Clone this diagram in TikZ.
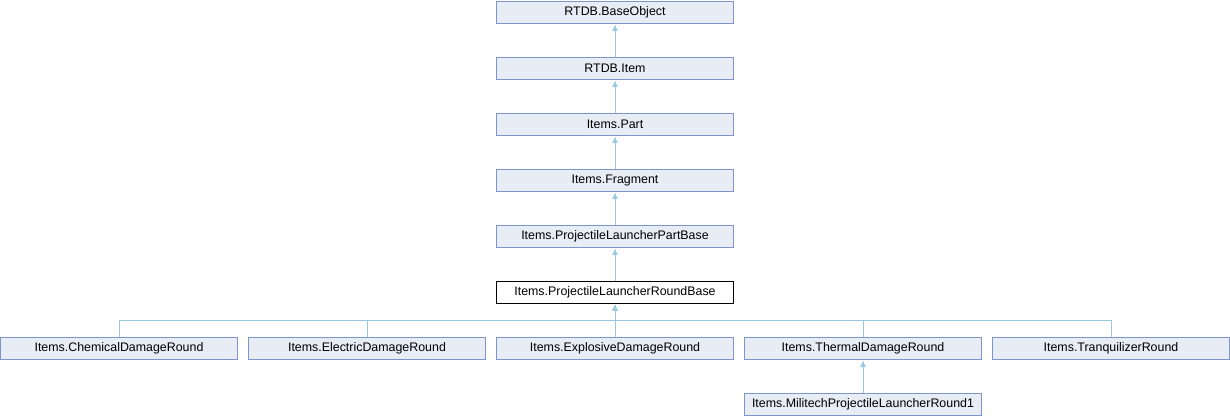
\documentclass[tikz,border=0pt]{standalone}
\usepackage{fontspec}
\setmainfont{Liberation Sans}
\usetikzlibrary{arrows.meta}
\definecolor{boxfill}{HTML}{E8ECF5}
\definecolor{boxline}{HTML}{7D95C8}
\definecolor{edgeline}{HTML}{9AC7E2}
\tikzset{
    cls/.style={rectangle, draw=boxline, fill=boxfill, line width=0.75pt,
        minimum width=177.5pt, minimum height=17pt, inner sep=0pt,
        font=\fontsize{9.3}{10}\selectfont},
    cur/.style={cls, draw=black, fill=white},
    inherit/.style={draw=edgeline, line width=0.75pt, -{Latex[length=5pt,width=4.5pt]}}
}
\begin{document}
\begin{tikzpicture}[x=0.75pt, y=-0.75pt]
        \useasboundingbox (0,0) rectangle (1230,416);
        % nodes
        \node(baseobj) [cls] at (615, 12.5) {RTDB.BaseObject};
        \node(item) [cls] at (615, 68.5) {RTDB.Item};
        \node(part) [cls] at (615, 124.5) {Items.Part};
        \node(fragment) [cls] at (615, 180.5) {Items.Fragment};
        \node(partbase) [cls] at (615, 236.5) {Items.ProjectileLauncherPartBase};
        \node(roundbase) [cur] at (615, 292.5) {Items.ProjectileLauncherRoundBase};
        \node(chemical) [cls] at (119, 348.5) {Items.ChemicalDamageRound};
        \node(electric) [cls] at (367, 348.5) {Items.ElectricDamageRound};
        \node(explosive) [cls] at (615, 348.5) {Items.ExplosiveDamageRound};
        \node(thermal) [cls] at (863, 348.5) {Items.ThermalDamageRound};
        \node(tranq) [cls] at (1111, 348.5) {Items.TranquilizerRound};
        \node(militech) [cls] at (863, 404.5) {Items.MilitechProjectileLauncherRound1};

        \coordinate(bus) at (615, 320);

        %edges
        \draw[inherit] (item) -- (baseobj);
        \draw[inherit] (part) -- (item);
        \draw[inherit] (fragment) -- (part);
        \draw[inherit] (partbase) -- (fragment);
        \draw[inherit] (roundbase) -- (partbase);
        \draw[inherit] (chemical.north) |- (bus) -- (roundbase.south);
        \draw[inherit] (electric.north) |- (bus) -- (roundbase.south);
        \draw[inherit] (explosive) -- (roundbase);
        \draw[inherit] (thermal.north) |- (bus) -- (roundbase.south);
        \draw[inherit] (tranq.north) |- (bus) -- (roundbase.south);
        \draw[inherit] (militech) -- (thermal);

    \end{tikzpicture}
\end{document}
